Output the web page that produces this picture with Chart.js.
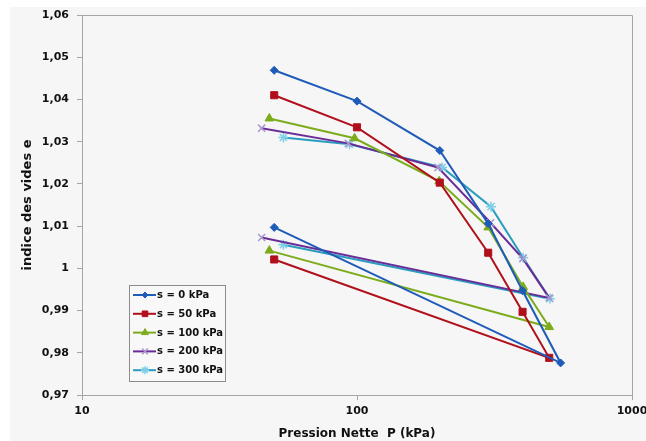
<!DOCTYPE html>
<html>
<head>
<meta charset="utf-8">
<script src="https://cdn.jsdelivr.net/npm/chart.js@4/dist/chart.umd.min.js"></script>
<style>
  html, body { margin: 0; padding: 0; background: #fff; }
  #wrap { width: 646px; height: 441px; position: relative; }
</style>
</head>
<body>
<div id="wrap"><canvas id="chart" width="646" height="441"></canvas></div>
<script>
// pression nette P (kPa): chargement puis déchargement
const SERIES_LABELS = ['s = 0 kPa', 's = 50 kPa', 's = 100 kPa', 's = 200 kPa', 's = 300 kPa'];

const P_S0   = [50, 100, 200, 300, 400, 550, 50];
const E_S0   = [1.0469, 1.0396, 1.0279, 1.0106, 0.9947, 0.9776, 1.0097];

const P_S50  = [50, 100, 200, 300, 400, 500, 50];
const E_S50  = [1.0410, 1.0334, 1.0203, 1.0037, 0.9897, 0.9788, 1.0021];

const P_S100 = [48, 98, 199, 300, 402, 500, 48];
const E_S100 = [1.0355, 1.0308, 1.0206, 1.0097, 0.9956, 0.9861, 1.0042];

const P_S200 = [45, 93, 197, 306, 401, 500, 45];
const E_S200 = [1.0332, 1.0296, 1.0239, 1.0108, 1.0023, 0.9930, 1.0073];

const P_S300 = [54, 94, 204, 307, 402, 503, 54];
const E_S300 = [1.0310, 1.0294, 1.0239, 1.0146, 1.0025, 0.9928, 1.0056];

const X_TICKS = [10, 100, 1000];
const Y_MIN = 0.97, Y_MAX = 1.06, Y_STEP = 0.01;

const LINE_COLORS  = ['#1f5bb8', '#b0101c', '#7cac1c', '#6a2c96', '#2a9cc0'];
const POINT_COLORS = ['#1f5bb8', '#b0101c', '#7cac1c', '#a996cf', '#7fcfe6'];
const POINT_STYLES = ['rectRot', 'rect', 'triangle', 'crossRot', 'star'];
const POINT_SIZES  = [4, 5, 5, 5, 5];

const toPoints = (ps, es) => ps.map((p, i) => ({ x: p, y: es[i] }));
const fmtY = v => {
  const r = Math.round(v * 100) / 100;
  return r === 1 ? '1' : r.toFixed(2).replace('.', ',');
};

const seriesData = [
  toPoints(P_S0, E_S0),
  toPoints(P_S50, E_S50),
  toPoints(P_S100, E_S100),
  toPoints(P_S200, E_S200),
  toPoints(P_S300, E_S300),
];

const datasets = seriesData.map((d, i) => ({
  label: SERIES_LABELS[i],
  data: d,
  borderColor: LINE_COLORS[i],
  backgroundColor: POINT_COLORS[i],
  pointBorderColor: POINT_COLORS[i],
  pointBackgroundColor: POINT_COLORS[i],
  pointStyle: POINT_STYLES[i],
  pointRadius: POINT_SIZES[i],
  pointBorderWidth: i >= 3 ? 1.5 : 1,
  borderWidth: 2,
  tension: 0,
  fill: false,
}));

// fond gris clair + cadre du graphique
const backgroundPlugin = {
  id: 'bg',
  beforeDraw(chart) {
    const ctx = chart.ctx;
    ctx.save();
    ctx.fillStyle = '#ffffff';
    ctx.fillRect(0, 0, chart.width, chart.height);
    ctx.fillStyle = '#f6f6f6';
    ctx.fillRect(10, 7, chart.width - 10, chart.height - 7);
    ctx.restore();
  },
  afterDraw(chart) {
    const { ctx, chartArea: a } = chart;
    ctx.save();
    ctx.strokeStyle = '#a6a6a6';
    ctx.lineWidth = 1;
    ctx.beginPath();
    ctx.moveTo(a.left, a.top + 0.5);
    ctx.lineTo(a.right + 0.5, a.top + 0.5);
    ctx.lineTo(a.right + 0.5, a.bottom);
    ctx.stroke();
    ctx.restore();
  }
};

// légende encadrée dans la zone de tracé
const boxLegendPlugin = {
  id: 'boxLegend',
  afterDatasetsDraw(chart) {
    const ctx = chart.ctx;
    const x0 = 129, y0 = 285, w = 96, rowH = 18.8;
    const h = rowH * datasets.length + 2;
    ctx.save();
    ctx.fillStyle = '#f8f8f8';
    ctx.fillRect(x0, y0, w, h);
    ctx.strokeStyle = '#8c8c8c';
    ctx.lineWidth = 1;
    ctx.strokeRect(x0 + 0.5, y0 + 0.5, w, h);
    ctx.font = 'bold 10px "DejaVu Sans"';
    ctx.textBaseline = 'middle';
    datasets.forEach((ds, i) => {
      const cy = y0 + 10 + i * rowH;
      ctx.strokeStyle = ds.borderColor;
      ctx.lineWidth = 2;
      ctx.beginPath();
      ctx.moveTo(x0 + 4, cy);
      ctx.lineTo(x0 + 27, cy);
      ctx.stroke();
      ctx.fillStyle = ds.pointBackgroundColor;
      ctx.strokeStyle = ds.pointBorderColor;
      ctx.lineWidth = ds.pointBorderWidth;
      Chart.helpers.drawPoint(ctx, { pointStyle: ds.pointStyle, radius: ds.pointRadius - 1, borderWidth: ds.pointBorderWidth }, x0 + 16, cy);
      ctx.fillStyle = '#111';
      ctx.fillText(ds.label, x0 + 28, cy + 0.5);
    });
    ctx.restore();
  }
};

new Chart(document.getElementById('chart'), {
  type: 'line',
  data: { datasets },
  plugins: [backgroundPlugin, boxLegendPlugin],
  options: {
    responsive: false,
    animation: false,
    layout: { padding: { left: 20, top: 15, right: 14, bottom: 0 } },
    plugins: { legend: { display: false }, tooltip: { enabled: false } },
    scales: {
      x: {
        type: 'logarithmic',
        min: 10,
        max: 1000,
        afterBuildTicks: s => { s.ticks = X_TICKS.map(v => ({ value: v })); },
        afterFit: s => { s.height = 46; s.paddingLeft = 0; s.paddingRight = 0; },
        ticks: {
          color: '#111',
          font: { family: 'DejaVu Sans', weight: 'bold', size: 11 },
          padding: 5,
          maxRotation: 0,
          callback: v => String(v),
        },
        grid: { display: true, drawOnChartArea: false, drawTicks: true, tickLength: 5, color: '#a6a6a6' },
        border: { display: true, color: '#a6a6a6' },
        title: {
          display: true,
          text: 'Pression Nette  P (kPa)',
          color: '#111',
          font: { family: 'DejaVu Sans', weight: 'bold', size: 12 },
          padding: { top: 2, bottom: 0 },
        },
      },
      y: {
        type: 'linear',
        min: Y_MIN,
        max: Y_MAX,
        afterFit: s => { s.width = 62; },
        ticks: {
          stepSize: Y_STEP,
          color: '#111',
          font: { family: 'DejaVu Sans', weight: 'bold', size: 11 },
          padding: 8,
          callback: v => fmtY(v),
        },
        grid: { display: true, drawOnChartArea: false, drawTicks: true, tickLength: 5, color: '#a6a6a6' },
        border: { display: true, color: '#a6a6a6' },
        title: {
          display: true,
          text: 'indice des vides e',
          color: '#111',
          font: { family: 'DejaVu Sans', weight: 'bold', size: 13 },
          padding: { top: 0, bottom: 4 },
        },
      },
    },
  },
});
</script>
</body>
</html>
